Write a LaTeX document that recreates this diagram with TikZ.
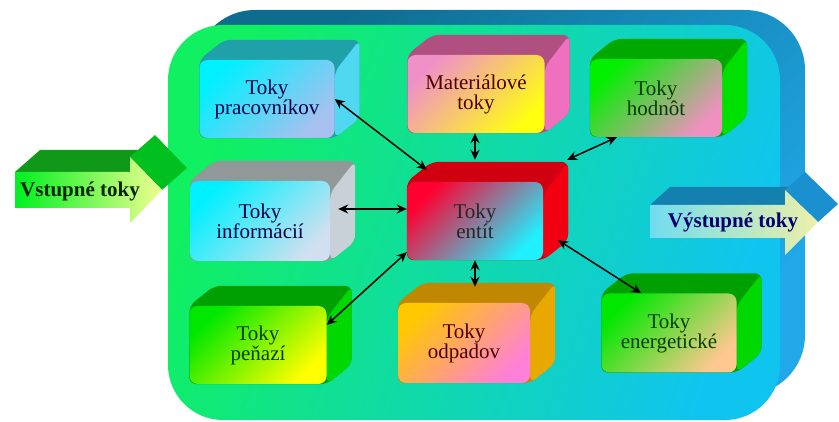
\documentclass[tikz,border=0pt]{standalone}
\usepackage{fontspec}
\setmainfont{Liberation Serif}
\usepackage{tikz}
\usetikzlibrary{positioning,arrows.meta}

\pgfdeclarelayer{back}
\pgfdeclarelayer{mid}
\pgfsetlayers{back,mid,main}

\definecolor{pracA}{HTML}{00F0FF}
\definecolor{pracB}{HTML}{A8C0F0}
\definecolor{pracT}{HTML}{20A0A8}
\definecolor{pracS}{HTML}{50D8F0}
\definecolor{matA}{HTML}{F090C8}
\definecolor{matB}{HTML}{FFFF10}
\definecolor{matT}{HTML}{B05080}
\definecolor{matS}{HTML}{F070C0}
\definecolor{hodA}{HTML}{00F000}
\definecolor{hodB}{HTML}{F090C0}
\definecolor{hodT}{HTML}{00A800}
\definecolor{hodS}{HTML}{00E000}
\definecolor{infA}{HTML}{00F0FF}
\definecolor{infB}{HTML}{D0E0F0}
\definecolor{infT}{HTML}{909898}
\definecolor{infS}{HTML}{C8D0D8}
\definecolor{entA}{HTML}{FF0030}
\definecolor{entB}{HTML}{20F0FF}
\definecolor{entT}{HTML}{D00010}
\definecolor{entS}{HTML}{F00010}
\definecolor{penA}{HTML}{00E800}
\definecolor{penB}{HTML}{FFFF00}
\definecolor{penT}{HTML}{00A000}
\definecolor{penS}{HTML}{00D800}
\definecolor{odpA}{HTML}{FFC800}
\definecolor{odpB}{HTML}{FF80D8}
\definecolor{odpT}{HTML}{C08800}
\definecolor{odpS}{HTML}{E8A800}
\definecolor{eneA}{HTML}{00E800}
\definecolor{eneB}{HTML}{FFC890}
\definecolor{eneT}{HTML}{00A000}
\definecolor{eneS}{HTML}{00D800}
\definecolor{inA}{HTML}{00F020}
\definecolor{inB}{HTML}{F0FF90}
\definecolor{inTop}{HTML}{109818}
\definecolor{inHead}{HTML}{00C020}
\definecolor{outA}{HTML}{70DCEF}
\definecolor{outB}{HTML}{EEF0A8}
\definecolor{outTop}{HTML}{1480B0}
\definecolor{outHead}{HTML}{1A90D0}
\definecolor{boxA}{HTML}{10F060}
\definecolor{boxM}{HTML}{18E8C8}
\definecolor{boxB}{HTML}{10C4F0}
\definecolor{rimA}{HTML}{0E6C8E}
\definecolor{rimB}{HTML}{20A8E8}

\begin{document}
\begin{tikzpicture}[
    x=1pt, y=-1pt,
    tok/.style 2 args={rectangle, rounded corners=8pt, minimum width=135pt, minimum height=78pt,
        align=center, inner sep=2pt, font=\fontsize{21}{20}\selectfont, text=black!85,
        top color=#1, bottom color=#2, shading angle=45},
    flowlbl/.style={font=\fontsize{21}{21}\selectfont\bfseries, inner sep=0pt},
    ptr/.style={<->, >={Stealth[length=10pt,width=9pt]}, line width=1.5pt}
]
    \useasboundingbox (0,0) rectangle (839,422);

    % container
    \begin{pgfonlayer}{back}
        \path[rounded corners=60pt, top color=rimA, bottom color=rimB, shading angle=45]
            (195,10) rectangle (805,395);
        \path[rounded corners=55pt, top color=boxA, middle color=boxM, bottom color=boxB, shading angle=70]
            (168,25) rectangle (780,420);
    \end{pgfonlayer}

    % flows
    \node[tok={pracA}{pracB}, text=blue!30!black] (prac) at (267,99) {Toky\\pracovníkov};
    \node[tok={matA}{matB}, minimum width=137pt, text=red!30!black] (mat) at (476,94) {Materiálové\\toky};
    \node[tok={hodA}{hodB}, minimum width=132pt, text=green!25!black] (hod) at (656,98) {Toky\\hodnôt};
    \node[tok={infA}{infB}, minimum width=140pt, minimum height=80pt, text=blue!30!black] (inf) at (260,221) {Toky\\informácií};
    \node[tok={entA}{entB}, minimum width=136pt] (ent) at (475,221) {Toky\\entít};
    \node[tok={penA}{penB}, minimum width=137pt, text=green!25!black] (pen) at (258,345) {Toky\\peňazí};
    \node[tok={odpA}{odpB}, minimum width=132pt, minimum height=80pt, text=red!30!black] (odp) at (464,343) {Toky\\odpadov};
    \node[tok={eneA}{eneB}, minimum height=79pt, text=green!25!black] (ene) at (669,333) {Toky\\energetické};

    % 3D sides
    \begin{pgfonlayer}{mid}
        \foreach \n/\tc/\sc in {prac/pracT/pracS, mat/matT/matS, hod/hodT/hodS, inf/infT/infS,
                ent/entT/entS, pen/penT/penS, odp/odpT/odpS, ene/eneT/eneS} {
            \fill[\tc, rounded corners=7pt] (\n.north west) -- ++(25,-20) -- ([shift={(25,-20)}]\n.north east)
                -- ([shift={(25,-20)}]\n.south east) -- (\n.south east) -- (\n.south west) -- cycle;
            \fill[\sc, rounded corners=7pt] ([yshift=-12pt]\n.north east) -- ([shift={(25,-20)}]\n.north east)
                -- ([shift={(25,-20)}]\n.south east) -- (\n.south east) -- cycle;
        }

        % input
        \fill[inTop] (15,172) -- (40,150) -- (155,150) -- (130,172) -- cycle;
        \fill[inHead] (130,157) -- (155,135) -- (187,168) -- (162,190) -- cycle;
        \path[left color=inA, right color=inB]
            (15,172) -- (130,172) -- (130,157) -- (162,190) -- (130,223) -- (130,208) -- (15,208) -- cycle;

        % output
        \fill[outTop] (650,205) -- (670,187) -- (805,187) -- (785,205) -- cycle;
        \fill[outHead] (785,190) -- (805,172) -- (838,204) -- (818,222) -- cycle;
        \path[left color=outA, right color=outB]
            (650,205) -- (785,205) -- (785,190) -- (818,222) -- (785,255) -- (785,238) -- (650,238) -- cycle;
    \end{pgfonlayer}

    \node[flowlbl, text=green!15!black] (vstup) at (80,191) {Vstupné toky};
    \node[flowlbl, text=blue!45!black] (vystup) at (733,222) {Výstupné toky};

    % links
    \draw[ptr] (prac.east) -- ([shift={(20,-12)}]ent.north west);
    \draw[ptr] (mat.south -| ent.north) -- ([yshift=22pt]ent.north);
    \draw[ptr] ([xshift=27pt]hod.south west) -- ([shift={(24,-22)}]ent.north east);
    \draw[ptr] ([shift={(8,-12)}]inf.east) -- ([yshift=12pt]ent.west);
    \draw[ptr] ([yshift=20pt]pen.east) -- ([yshift=8pt]ent.south west);
    \draw[ptr] (ent.south) -- ([shift={(11,-16)}]odp.north);
    \draw[ptr] ([shift={(15,-20)}]ent.south east) -- ([xshift=40pt]ene.north west);
\end{tikzpicture}
\end{document}
